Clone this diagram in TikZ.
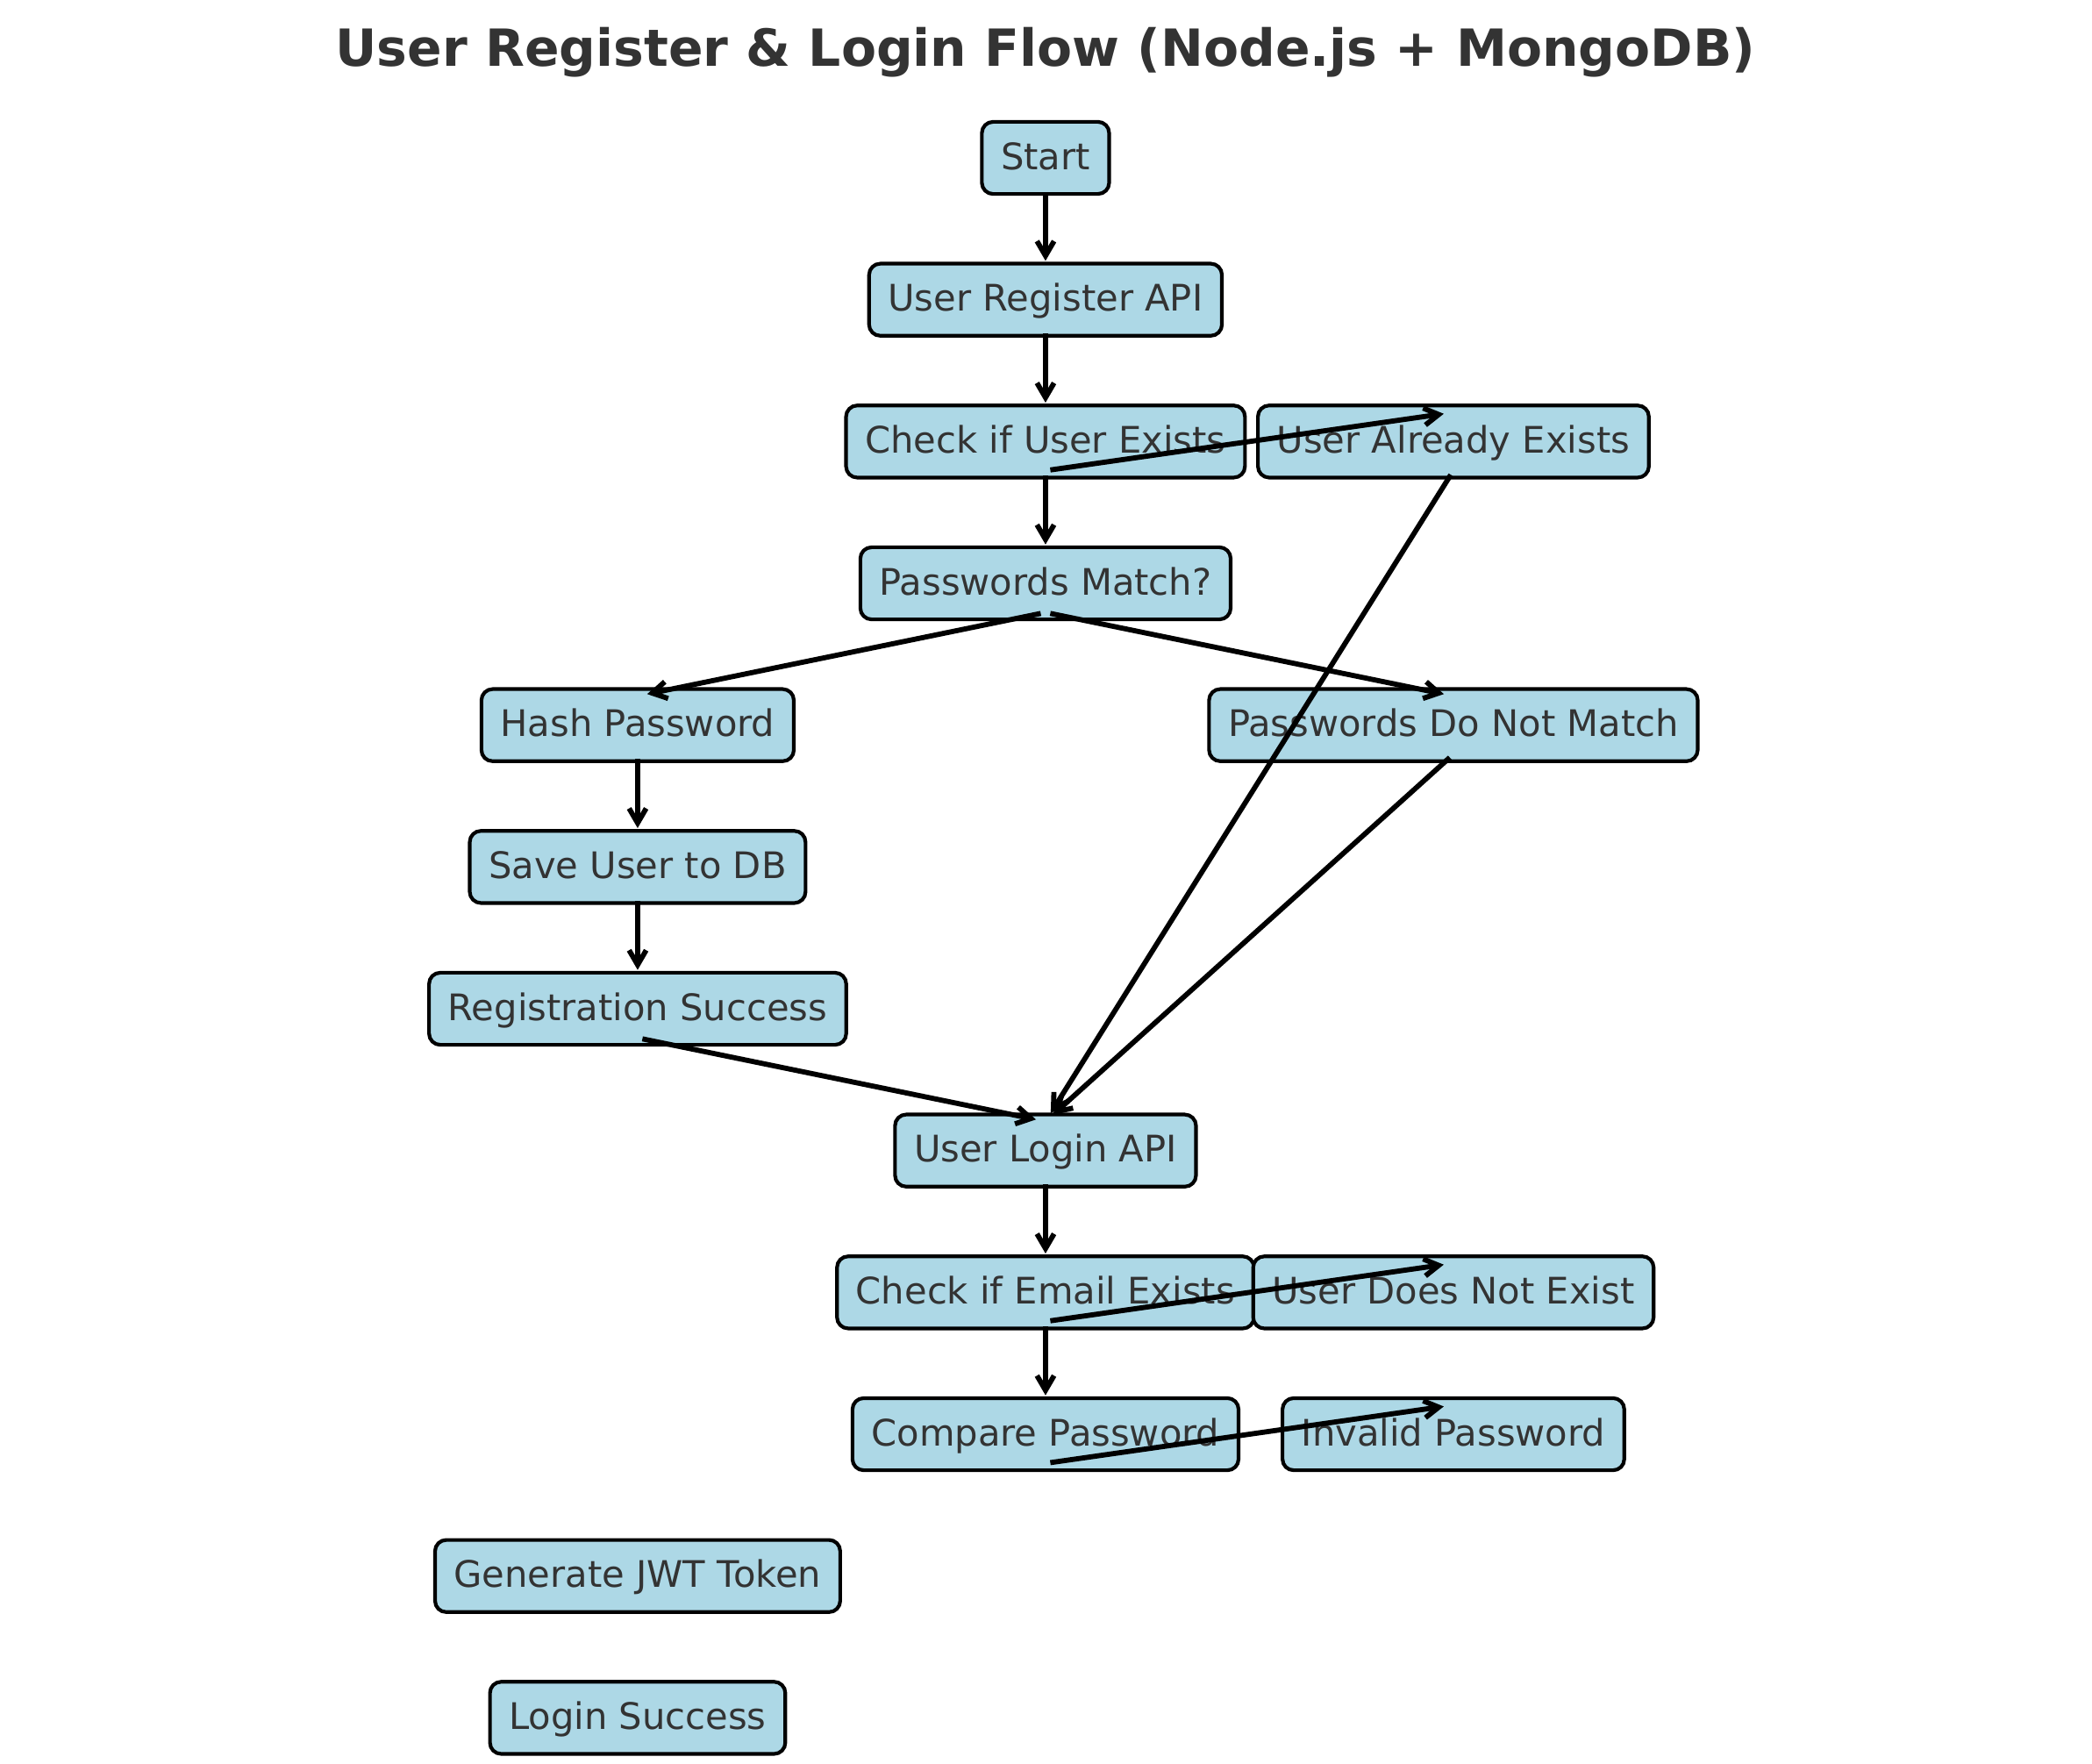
\documentclass[tikz,border=0pt]{standalone}
\usepackage{fontspec}
\setmainfont{DejaVu Sans}
\usetikzlibrary{positioning,arrows.meta}
\definecolor{boxblue}{HTML}{ADD8E6}
\definecolor{inkgray}{HTML}{333333}
\tikzset{ stepbox/.style={draw,fill=boxblue,text=inkgray,rounded corners=4.6pt,line width=1.5pt,minimum height=29.6pt,inner xsep=7.8pt,text height=12.7pt,text depth=3.2pt,font=\fontsize{15}{17}\selectfont} }
\tikzset{ flow/.style={-{Straight Barb[length=6pt,width=7pt]},line width=2.1pt,shorten <=2pt,shorten >=4pt} }
\newcommand{\flowedge}[2]{\draw[flow] ([yshift=3.6pt]#1.south) -- ([yshift=-3.6pt]#2.north);}

\begin{document}
\begin{tikzpicture}[on grid,node distance=58.2pt and 167.4pt]
  \useasboundingbox (-429.1pt,64.8pt) rectangle (429.5pt,-658.8pt);
  \node[anchor=base,text=inkgray,font=\bfseries\fontsize{21}{25}\selectfont] (title) at (0,37.8pt) {User Register \& Login Flow (Node.js + MongoDB)};
  \node[stepbox] (start) at (0,0) {Start};
  \node[stepbox,below=of start] (reg) {User Register API};
  \node[stepbox,below=of reg] (chk) {Check if User Exists};
  \node[stepbox,right=of chk] (exists) {User Already Exists};
  \node[stepbox,below=of chk] (pm) {Passwords Match?};
  \node[stepbox,below left=of pm] (hash) {Hash Password};
  \node[stepbox,below right=of pm] (nomatch) {Passwords Do Not Match};
  \node[stepbox,below=of hash] (save) {Save User to DB};
  \node[stepbox,below=of save] (regok) {Registration Success};
  \node[stepbox,below right=of regok] (login) {User Login API};
  \node[stepbox,below=of login] (chkmail) {Check if Email Exists};
  \node[stepbox,right=of chkmail] (nouser) {User Does Not Exist};
  \node[stepbox,below=of chkmail] (cmp) {Compare Password};
  \node[stepbox,right=of cmp] (badpw) {Invalid Password};
  \node[stepbox,below left=of cmp] (jwt) {Generate JWT Token};
  \node[stepbox,below=of jwt] (loginok) {Login Success};
  \flowedge{start}{reg}
  \flowedge{reg}{chk}
  \flowedge{chk}{exists}
  \flowedge{chk}{pm}
  \flowedge{pm}{hash}
  \flowedge{pm}{nomatch}
  \flowedge{exists}{login}
  \flowedge{nomatch}{login}
  \flowedge{hash}{save}
  \flowedge{save}{regok}
  \flowedge{regok}{login}
  \flowedge{login}{chkmail}
  \flowedge{chkmail}{nouser}
  \flowedge{chkmail}{cmp}
  \flowedge{cmp}{badpw}
\end{tikzpicture}
\end{document}
